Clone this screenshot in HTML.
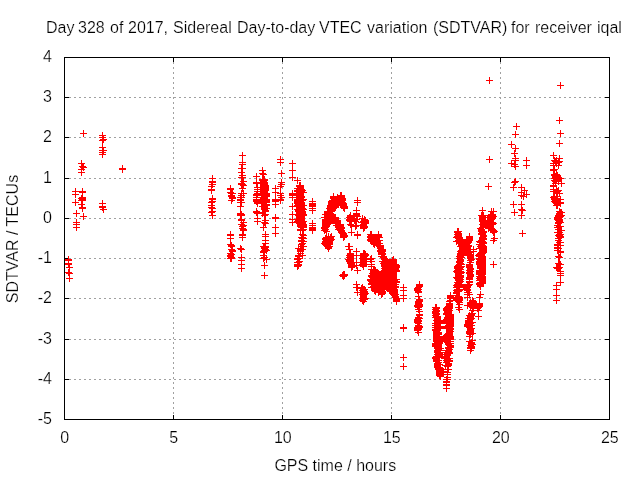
<!DOCTYPE html>
<html lang="en"><head><meta charset="utf-8"><title>SDTVAR iqal day 328 of 2017</title>
<style>
html,body{margin:0;padding:0;background:#fff;}
body{width:640px;height:480px;overflow:hidden;position:relative;}
svg{position:absolute;left:0;top:0;display:block;}
text{font-family:"Liberation Sans",Arial,Helvetica,sans-serif;font-size:16px;fill:#000;stroke:#fff;stroke-width:0.22px;}
</style></head><body>
<svg width="640" height="480" viewBox="0 0 640 480">
<rect width="640" height="480" fill="#fff"/>
<g shape-rendering="crispEdges" fill="none">
<path d="M64,97.5H609M64,137.5H609M64,178.5H609M64,218.5H609M64,258.5H609M64,298.5H609M64,339.5H609M64,379.5H609" stroke="#a0a0a0" stroke-width="1" stroke-dasharray="2 3"/>
<path d="M173.5,57V419M282.5,57V419M391.5,57V419M500.5,57V419" stroke="#a0a0a0" stroke-width="1" stroke-dasharray="2 3"/>
<path d="M64.5,57.5H609.5V419.5H64.5Z" stroke="#000" stroke-width="1"/>
<path d="M64.5,420v-5M64.5,57v5M173.5,420v-5M173.5,57v5M282.5,420v-5M282.5,57v5M391.5,420v-5M391.5,57v5M500.5,420v-5M500.5,57v5M609.5,420v-5M609.5,57v5M64,57.5h5M610,57.5h-5M64,97.5h5M610,97.5h-5M64,137.5h5M610,137.5h-5M64,178.5h5M610,178.5h-5M64,218.5h5M610,218.5h-5M64,258.5h5M610,258.5h-5M64,298.5h5M610,298.5h-5M64,339.5h5M610,339.5h-5M64,379.5h5M610,379.5h-5M64,419.5h5M610,419.5h-5" stroke="#000" stroke-width="1"/>
<path d="M65,259.5h7M68.5,256v7M65,260.5h7M68.5,257v7M65,263.5h7M68.5,260v7M65,264.5h7M68.5,261v7M65,272.5h7M68.5,269v7M66,267.5h7M69.5,264v7M66,273.5h7M69.5,270v7M66,278.5h7M69.5,275v7M72,191.5h7M75.5,188v7M72,194.5h7M75.5,191v7M72,202.5h7M75.5,199v7M73,213.5h7M76.5,210v7M73,222.5h7M76.5,219v7M73,224.5h7M76.5,221v7M73,227.5h7M76.5,224v7M78,163.5h7M81.5,160v7M78,169.5h7M81.5,166v7M78,172.5h7M81.5,169v7M78,198.5h7M81.5,195v7M78,200.5h7M81.5,197v7M78,204.5h7M81.5,201v7M79,166.5h7M82.5,163v7M79,191.5h7M82.5,188v7M79,192.5h7M82.5,189v7M79,197.5h7M82.5,194v7M79,198.5h7M82.5,195v7M79,199.5h7M82.5,196v7M79,200.5h7M82.5,197v7M79,207.5h7M82.5,204v7M79,208.5h7M82.5,205v7M80,133.5h7M83.5,130v7M80,167.5h7M83.5,164v7M80,216.5h7M83.5,213v7M99,135.5h7M102.5,132v7M99,137.5h7M102.5,134v7M99,140.5h7M102.5,137v7M99,147.5h7M102.5,144v7M99,150.5h7M102.5,147v7M99,152.5h7M102.5,149v7M99,154.5h7M102.5,151v7M99,203.5h7M102.5,200v7M99,206.5h7M102.5,203v7M99,207.5h7M102.5,204v7M100,139.5h7M103.5,136v7M100,150.5h7M103.5,147v7M100,209.5h7M103.5,206v7M119,168.5h7M122.5,165v7M119,169.5h7M122.5,166v7M208,186.5h7M211.5,183v7M208,189.5h7M211.5,186v7M208,190.5h7M211.5,187v7M208,202.5h7M211.5,199v7M208,205.5h7M211.5,202v7M208,207.5h7M211.5,204v7M208,212.5h7M211.5,209v7M209,178.5h7M212.5,175v7M209,181.5h7M212.5,178v7M209,182.5h7M212.5,179v7M209,184.5h7M212.5,181v7M209,198.5h7M212.5,195v7M209,199.5h7M212.5,196v7M209,201.5h7M212.5,198v7M209,208.5h7M212.5,205v7M209,211.5h7M212.5,208v7M209,215.5h7M212.5,212v7M227,188.5h7M230.5,185v7M227,189.5h7M230.5,186v7M227,192.5h7M230.5,189v7M227,234.5h7M230.5,231v7M227,235.5h7M230.5,232v7M227,238.5h7M230.5,235v7M227,244.5h7M230.5,241v7M227,253.5h7M230.5,250v7M227,255.5h7M230.5,252v7M227,256.5h7M230.5,253v7M227,258.5h7M230.5,255v7M228,193.5h7M231.5,190v7M228,195.5h7M231.5,192v7M228,196.5h7M231.5,193v7M228,200.5h7M231.5,197v7M228,245.5h7M231.5,242v7M228,246.5h7M231.5,243v7M228,249.5h7M231.5,246v7M228,254.5h7M231.5,251v7M228,257.5h7M231.5,254v7M228,258.5h7M231.5,255v7M229,193.5h7M232.5,190v7M229,197.5h7M232.5,194v7M229,198.5h7M232.5,195v7M229,250.5h7M232.5,247v7M229,251.5h7M232.5,248v7M237,197.5h7M240.5,194v7M237,199.5h7M240.5,196v7M237,200.5h7M240.5,197v7M237,202.5h7M240.5,199v7M237,206.5h7M240.5,203v7M237,213.5h7M240.5,210v7M237,214.5h7M240.5,211v7M237,215.5h7M240.5,212v7M237,248.5h7M240.5,245v7M238,168.5h7M241.5,165v7M238,172.5h7M241.5,169v7M238,177.5h7M241.5,174v7M238,183.5h7M241.5,180v7M238,184.5h7M241.5,181v7M238,193.5h7M241.5,190v7M238,195.5h7M241.5,192v7M238,197.5h7M241.5,194v7M238,202.5h7M241.5,199v7M238,214.5h7M241.5,211v7M238,215.5h7M241.5,212v7M238,219.5h7M241.5,216v7M238,220.5h7M241.5,217v7M238,224.5h7M241.5,221v7M238,249.5h7M241.5,246v7M238,257.5h7M241.5,254v7M238,260.5h7M241.5,257v7M238,264.5h7M241.5,261v7M238,268.5h7M241.5,265v7M239,155.5h7M242.5,152v7M239,162.5h7M242.5,159v7M239,164.5h7M242.5,161v7M239,168.5h7M242.5,165v7M239,175.5h7M242.5,172v7M239,177.5h7M242.5,174v7M239,184.5h7M242.5,181v7M239,188.5h7M242.5,185v7M239,226.5h7M242.5,223v7M239,228.5h7M242.5,225v7M239,234.5h7M242.5,231v7M239,235.5h7M242.5,232v7M239,237.5h7M242.5,234v7M240,181.5h7M243.5,178v7M240,185.5h7M243.5,182v7M240,193.5h7M243.5,190v7M240,222.5h7M243.5,219v7M240,225.5h7M243.5,222v7M240,229.5h7M243.5,226v7M240,230.5h7M243.5,227v7M253,176.5h7M256.5,173v7M253,182.5h7M256.5,179v7M253,183.5h7M256.5,180v7M253,194.5h7M256.5,191v7M253,195.5h7M256.5,192v7M253,197.5h7M256.5,194v7M253,199.5h7M256.5,196v7M253,200.5h7M256.5,197v7M253,201.5h7M256.5,198v7M253,211.5h7M256.5,208v7M253,212.5h7M256.5,209v7M254,187.5h7M257.5,184v7M254,189.5h7M257.5,186v7M254,191.5h7M257.5,188v7M254,193.5h7M257.5,190v7M254,202.5h7M257.5,199v7M254,203.5h7M257.5,200v7M254,213.5h7M257.5,210v7M254,218.5h7M257.5,215v7M254,221.5h7M257.5,218v7M259,170.5h7M262.5,167v7M259,173.5h7M262.5,170v7M259,179.5h7M262.5,176v7M259,180.5h7M262.5,177v7M259,206.5h7M262.5,203v7M259,212.5h7M262.5,209v7M259,213.5h7M262.5,210v7M260,174.5h7M263.5,171v7M260,181.5h7M263.5,178v7M260,182.5h7M263.5,179v7M260,183.5h7M263.5,180v7M260,184.5h7M263.5,181v7M260,185.5h7M263.5,182v7M260,186.5h7M263.5,183v7M260,187.5h7M263.5,184v7M260,188.5h7M263.5,185v7M260,189.5h7M263.5,186v7M260,190.5h7M263.5,187v7M260,191.5h7M263.5,188v7M260,192.5h7M263.5,189v7M260,193.5h7M263.5,190v7M260,194.5h7M263.5,191v7M260,195.5h7M263.5,192v7M260,197.5h7M263.5,194v7M260,198.5h7M263.5,195v7M260,199.5h7M263.5,196v7M260,200.5h7M263.5,197v7M260,201.5h7M263.5,198v7M260,202.5h7M263.5,199v7M260,203.5h7M263.5,200v7M260,227.5h7M263.5,224v7M260,246.5h7M263.5,243v7M260,251.5h7M263.5,248v7M260,252.5h7M263.5,249v7M260,255.5h7M263.5,252v7M260,258.5h7M263.5,255v7M261,179.5h7M264.5,176v7M261,180.5h7M264.5,177v7M261,182.5h7M264.5,179v7M261,183.5h7M264.5,180v7M261,184.5h7M264.5,181v7M261,191.5h7M264.5,188v7M261,192.5h7M264.5,189v7M261,196.5h7M264.5,193v7M261,197.5h7M264.5,194v7M261,198.5h7M264.5,195v7M261,204.5h7M264.5,201v7M261,205.5h7M264.5,202v7M261,206.5h7M264.5,203v7M261,207.5h7M264.5,204v7M261,208.5h7M264.5,205v7M261,209.5h7M264.5,206v7M261,215.5h7M264.5,212v7M261,222.5h7M264.5,219v7M261,247.5h7M264.5,244v7M261,248.5h7M264.5,245v7M261,250.5h7M264.5,247v7M261,251.5h7M264.5,248v7M261,257.5h7M264.5,254v7M261,265.5h7M264.5,262v7M261,275.5h7M264.5,272v7M262,185.5h7M265.5,182v7M262,186.5h7M265.5,183v7M262,187.5h7M265.5,184v7M262,188.5h7M265.5,185v7M262,189.5h7M265.5,186v7M262,190.5h7M265.5,187v7M262,210.5h7M265.5,207v7M262,211.5h7M265.5,208v7M262,214.5h7M265.5,211v7M262,220.5h7M265.5,217v7M262,223.5h7M265.5,220v7M262,234.5h7M265.5,231v7M262,236.5h7M265.5,233v7M262,240.5h7M265.5,237v7M262,243.5h7M265.5,240v7M262,246.5h7M265.5,243v7M262,247.5h7M265.5,244v7M262,249.5h7M265.5,246v7M263,193.5h7M266.5,190v7M263,194.5h7M266.5,191v7M263,195.5h7M266.5,192v7M263,196.5h7M266.5,193v7M263,199.5h7M266.5,196v7M263,200.5h7M266.5,197v7M263,201.5h7M266.5,198v7M263,202.5h7M266.5,199v7M263,204.5h7M266.5,201v7M263,205.5h7M266.5,202v7M263,208.5h7M266.5,205v7M263,250.5h7M266.5,247v7M263,259.5h7M266.5,256v7M272,188.5h7M275.5,185v7M272,192.5h7M275.5,189v7M272,199.5h7M275.5,196v7M272,200.5h7M275.5,197v7M272,201.5h7M275.5,198v7M272,204.5h7M275.5,201v7M272,217.5h7M275.5,214v7M272,218.5h7M275.5,215v7M272,227.5h7M275.5,224v7M272,233.5h7M275.5,230v7M277,159.5h7M280.5,156v7M277,162.5h7M280.5,159v7M277,186.5h7M280.5,183v7M277,193.5h7M280.5,190v7M277,195.5h7M280.5,192v7M277,199.5h7M280.5,196v7M277,200.5h7M280.5,197v7M278,173.5h7M281.5,170v7M278,182.5h7M281.5,179v7M278,184.5h7M281.5,181v7M278,197.5h7M281.5,194v7M289,163.5h7M292.5,160v7M289,170.5h7M292.5,167v7M289,177.5h7M292.5,174v7M289,193.5h7M292.5,190v7M289,194.5h7M292.5,191v7M289,195.5h7M292.5,192v7M289,197.5h7M292.5,194v7M289,206.5h7M292.5,203v7M289,214.5h7M292.5,211v7M289,219.5h7M292.5,216v7M289,222.5h7M292.5,219v7M294,180.5h7M297.5,177v7M294,188.5h7M297.5,185v7M294,190.5h7M297.5,187v7M294,191.5h7M297.5,188v7M294,199.5h7M297.5,196v7M294,200.5h7M297.5,197v7M294,201.5h7M297.5,198v7M294,202.5h7M297.5,199v7M294,203.5h7M297.5,200v7M294,205.5h7M297.5,202v7M294,209.5h7M297.5,206v7M294,221.5h7M297.5,218v7M294,258.5h7M297.5,255v7M294,259.5h7M297.5,256v7M294,262.5h7M297.5,259v7M294,264.5h7M297.5,261v7M294,265.5h7M297.5,262v7M294,266.5h7M297.5,263v7M295,204.5h7M298.5,201v7M295,210.5h7M298.5,207v7M295,211.5h7M298.5,208v7M295,215.5h7M298.5,212v7M295,220.5h7M298.5,217v7M295,222.5h7M298.5,219v7M295,248.5h7M298.5,245v7M295,255.5h7M298.5,252v7M295,256.5h7M298.5,253v7M295,262.5h7M298.5,259v7M295,264.5h7M298.5,261v7M295,265.5h7M298.5,262v7M296,185.5h7M299.5,182v7M296,186.5h7M299.5,183v7M296,189.5h7M299.5,186v7M296,192.5h7M299.5,189v7M296,193.5h7M299.5,190v7M296,194.5h7M299.5,191v7M296,195.5h7M299.5,192v7M296,196.5h7M299.5,193v7M296,197.5h7M299.5,194v7M296,198.5h7M299.5,195v7M296,206.5h7M299.5,203v7M296,207.5h7M299.5,204v7M296,208.5h7M299.5,205v7M296,212.5h7M299.5,209v7M296,213.5h7M299.5,210v7M296,214.5h7M299.5,211v7M296,216.5h7M299.5,213v7M296,217.5h7M299.5,214v7M296,218.5h7M299.5,215v7M296,219.5h7M299.5,216v7M296,223.5h7M299.5,220v7M296,256.5h7M299.5,253v7M296,258.5h7M299.5,255v7M296,261.5h7M299.5,258v7M297,185.5h7M300.5,182v7M297,186.5h7M300.5,183v7M297,187.5h7M300.5,184v7M297,188.5h7M300.5,185v7M297,193.5h7M300.5,190v7M297,194.5h7M300.5,191v7M297,195.5h7M300.5,192v7M297,198.5h7M300.5,195v7M297,201.5h7M300.5,198v7M297,224.5h7M300.5,221v7M297,225.5h7M300.5,222v7M297,226.5h7M300.5,223v7M297,229.5h7M300.5,226v7M297,230.5h7M300.5,227v7M297,248.5h7M300.5,245v7M297,249.5h7M300.5,246v7M297,250.5h7M300.5,247v7M297,251.5h7M300.5,248v7M297,253.5h7M300.5,250v7M298,189.5h7M301.5,186v7M298,191.5h7M301.5,188v7M298,196.5h7M301.5,193v7M298,197.5h7M301.5,194v7M298,202.5h7M301.5,199v7M298,203.5h7M301.5,200v7M298,204.5h7M301.5,201v7M298,206.5h7M301.5,203v7M298,207.5h7M301.5,204v7M298,210.5h7M301.5,207v7M298,216.5h7M301.5,213v7M298,217.5h7M301.5,214v7M298,218.5h7M301.5,215v7M298,219.5h7M301.5,216v7M298,220.5h7M301.5,217v7M298,227.5h7M301.5,224v7M298,237.5h7M301.5,234v7M298,240.5h7M301.5,237v7M298,241.5h7M301.5,238v7M298,244.5h7M301.5,241v7M298,246.5h7M301.5,243v7M299,190.5h7M302.5,187v7M299,200.5h7M302.5,197v7M299,208.5h7M302.5,205v7M299,211.5h7M302.5,208v7M299,212.5h7M302.5,209v7M299,213.5h7M302.5,210v7M299,222.5h7M302.5,219v7M299,223.5h7M302.5,220v7M299,230.5h7M302.5,227v7M299,234.5h7M302.5,231v7M299,237.5h7M302.5,234v7M299,238.5h7M302.5,235v7M299,243.5h7M302.5,240v7M299,249.5h7M302.5,246v7M299,255.5h7M302.5,252v7M300,192.5h7M303.5,189v7M300,199.5h7M303.5,196v7M300,205.5h7M303.5,202v7M300,209.5h7M303.5,206v7M300,214.5h7M303.5,211v7M300,215.5h7M303.5,212v7M300,221.5h7M303.5,218v7M300,224.5h7M303.5,221v7M300,225.5h7M303.5,222v7M300,226.5h7M303.5,223v7M300,227.5h7M303.5,224v7M300,229.5h7M303.5,226v7M300,235.5h7M303.5,232v7M300,238.5h7M303.5,235v7M300,241.5h7M303.5,238v7M300,246.5h7M303.5,243v7M309,201.5h7M312.5,198v7M309,203.5h7M312.5,200v7M309,204.5h7M312.5,201v7M309,205.5h7M312.5,202v7M309,206.5h7M312.5,203v7M309,208.5h7M312.5,205v7M309,210.5h7M312.5,207v7M309,223.5h7M312.5,220v7M309,225.5h7M312.5,222v7M309,227.5h7M312.5,224v7M309,228.5h7M312.5,225v7M309,229.5h7M312.5,226v7M309,230.5h7M312.5,227v7M321,217.5h7M324.5,214v7M321,227.5h7M324.5,224v7M321,228.5h7M324.5,225v7M321,230.5h7M324.5,227v7M321,243.5h7M324.5,240v7M322,214.5h7M325.5,211v7M322,219.5h7M325.5,216v7M322,220.5h7M325.5,217v7M322,221.5h7M325.5,218v7M322,222.5h7M325.5,219v7M322,223.5h7M325.5,220v7M322,224.5h7M325.5,221v7M322,225.5h7M325.5,222v7M322,226.5h7M325.5,223v7M322,227.5h7M325.5,224v7M322,229.5h7M325.5,226v7M322,238.5h7M325.5,235v7M322,239.5h7M325.5,236v7M322,241.5h7M325.5,238v7M322,242.5h7M325.5,239v7M322,244.5h7M325.5,241v7M323,225.5h7M326.5,222v7M323,226.5h7M326.5,223v7M323,231.5h7M326.5,228v7M323,237.5h7M326.5,234v7M323,240.5h7M326.5,237v7M323,245.5h7M326.5,242v7M324,211.5h7M327.5,208v7M324,212.5h7M327.5,209v7M324,213.5h7M327.5,210v7M324,215.5h7M327.5,212v7M324,216.5h7M327.5,213v7M324,218.5h7M327.5,215v7M324,224.5h7M327.5,221v7M324,245.5h7M327.5,242v7M324,246.5h7M327.5,243v7M325,236.5h7M328.5,233v7M325,247.5h7M328.5,244v7M325,248.5h7M328.5,245v7M326,208.5h7M329.5,205v7M326,212.5h7M329.5,209v7M326,241.5h7M329.5,238v7M326,242.5h7M329.5,239v7M326,243.5h7M329.5,240v7M326,244.5h7M329.5,241v7M326,246.5h7M329.5,243v7M327,205.5h7M330.5,202v7M327,206.5h7M330.5,203v7M327,207.5h7M330.5,204v7M327,209.5h7M330.5,206v7M327,210.5h7M330.5,207v7M327,213.5h7M330.5,210v7M327,237.5h7M330.5,234v7M327,238.5h7M330.5,235v7M327,240.5h7M330.5,237v7M328,201.5h7M331.5,198v7M328,202.5h7M331.5,199v7M328,203.5h7M331.5,200v7M328,204.5h7M331.5,201v7M328,211.5h7M331.5,208v7M328,214.5h7M331.5,211v7M328,236.5h7M331.5,233v7M328,239.5h7M331.5,236v7M329,200.5h7M332.5,197v7M329,209.5h7M332.5,206v7M329,210.5h7M332.5,207v7M329,215.5h7M332.5,212v7M329,216.5h7M332.5,213v7M330,196.5h7M333.5,193v7M330,197.5h7M333.5,194v7M330,198.5h7M333.5,195v7M330,208.5h7M333.5,205v7M331,199.5h7M334.5,196v7M332,206.5h7M335.5,203v7M332,207.5h7M335.5,204v7M332,217.5h7M335.5,214v7M332,218.5h7M335.5,215v7M332,219.5h7M335.5,216v7M333,225.5h7M336.5,222v7M334,197.5h7M337.5,194v7M334,220.5h7M337.5,217v7M334,221.5h7M337.5,218v7M334,222.5h7M337.5,219v7M334,223.5h7M337.5,220v7M335,224.5h7M338.5,221v7M335,226.5h7M338.5,223v7M335,227.5h7M338.5,224v7M335,229.5h7M338.5,226v7M336,228.5h7M339.5,225v7M337,195.5h7M340.5,192v7M337,224.5h7M340.5,221v7M337,225.5h7M340.5,222v7M337,226.5h7M340.5,223v7M337,229.5h7M340.5,226v7M337,230.5h7M340.5,227v7M338,195.5h7M341.5,192v7M338,196.5h7M341.5,193v7M338,197.5h7M341.5,194v7M338,201.5h7M341.5,198v7M338,227.5h7M341.5,224v7M338,228.5h7M341.5,225v7M338,230.5h7M341.5,227v7M338,231.5h7M341.5,228v7M338,232.5h7M341.5,229v7M339,198.5h7M342.5,195v7M339,199.5h7M342.5,196v7M339,200.5h7M342.5,197v7M339,202.5h7M342.5,199v7M339,232.5h7M342.5,229v7M339,233.5h7M342.5,230v7M339,275.5h7M342.5,272v7M340,203.5h7M343.5,200v7M340,204.5h7M343.5,201v7M340,205.5h7M343.5,202v7M340,206.5h7M343.5,203v7M340,207.5h7M343.5,204v7M340,233.5h7M343.5,230v7M340,234.5h7M343.5,231v7M340,235.5h7M343.5,232v7M340,236.5h7M343.5,233v7M340,237.5h7M343.5,234v7M340,274.5h7M343.5,271v7M340,276.5h7M343.5,273v7M341,206.5h7M344.5,203v7M341,207.5h7M344.5,204v7M341,208.5h7M344.5,205v7M341,235.5h7M344.5,232v7M341,236.5h7M344.5,233v7M341,274.5h7M344.5,271v7M341,275.5h7M344.5,272v7M345,246.5h7M348.5,243v7M345,259.5h7M348.5,256v7M346,217.5h7M349.5,214v7M346,219.5h7M349.5,216v7M346,220.5h7M349.5,217v7M346,246.5h7M349.5,243v7M346,249.5h7M349.5,246v7M346,255.5h7M349.5,252v7M346,257.5h7M349.5,254v7M346,260.5h7M349.5,257v7M346,261.5h7M349.5,258v7M347,215.5h7M350.5,212v7M347,216.5h7M350.5,213v7M347,217.5h7M350.5,214v7M347,218.5h7M350.5,215v7M347,219.5h7M350.5,216v7M347,221.5h7M350.5,218v7M347,224.5h7M350.5,221v7M347,253.5h7M350.5,250v7M347,254.5h7M350.5,251v7M347,255.5h7M350.5,252v7M347,256.5h7M350.5,253v7M347,257.5h7M350.5,254v7M347,258.5h7M350.5,255v7M347,259.5h7M350.5,256v7M347,260.5h7M350.5,257v7M347,261.5h7M350.5,258v7M347,262.5h7M350.5,259v7M347,263.5h7M350.5,260v7M348,225.5h7M351.5,222v7M348,232.5h7M351.5,229v7M348,263.5h7M351.5,260v7M348,264.5h7M351.5,261v7M348,265.5h7M351.5,262v7M348,266.5h7M351.5,263v7M348,267.5h7M351.5,264v7M349,266.5h7M352.5,263v7M351,220.5h7M354.5,217v7M352,221.5h7M355.5,218v7M352,226.5h7M355.5,223v7M353,210.5h7M356.5,207v7M353,213.5h7M356.5,210v7M353,214.5h7M356.5,211v7M353,215.5h7M356.5,212v7M353,219.5h7M356.5,216v7M353,225.5h7M356.5,222v7M353,251.5h7M356.5,248v7M353,255.5h7M356.5,252v7M353,262.5h7M356.5,259v7M353,265.5h7M356.5,262v7M353,284.5h7M356.5,281v7M353,287.5h7M356.5,284v7M354,200.5h7M357.5,197v7M354,202.5h7M357.5,199v7M354,216.5h7M357.5,213v7M354,234.5h7M357.5,231v7M354,235.5h7M357.5,232v7M354,270.5h7M357.5,267v7M354,287.5h7M357.5,284v7M354,292.5h7M357.5,289v7M358,222.5h7M361.5,219v7M358,288.5h7M361.5,285v7M359,218.5h7M362.5,215v7M359,258.5h7M362.5,255v7M359,264.5h7M362.5,261v7M359,287.5h7M362.5,284v7M359,288.5h7M362.5,285v7M359,290.5h7M362.5,287v7M359,292.5h7M362.5,289v7M359,294.5h7M362.5,291v7M359,298.5h7M362.5,295v7M359,300.5h7M362.5,297v7M360,221.5h7M363.5,218v7M360,224.5h7M363.5,221v7M360,225.5h7M363.5,222v7M360,226.5h7M363.5,223v7M360,227.5h7M363.5,224v7M360,228.5h7M363.5,225v7M360,253.5h7M363.5,250v7M360,254.5h7M363.5,251v7M360,255.5h7M363.5,252v7M360,256.5h7M363.5,253v7M360,257.5h7M363.5,254v7M360,259.5h7M363.5,256v7M360,260.5h7M363.5,257v7M360,261.5h7M363.5,258v7M360,262.5h7M363.5,259v7M360,263.5h7M363.5,260v7M360,265.5h7M363.5,262v7M360,266.5h7M363.5,263v7M360,289.5h7M363.5,286v7M360,290.5h7M363.5,287v7M360,291.5h7M363.5,288v7M360,293.5h7M363.5,290v7M360,295.5h7M363.5,292v7M360,296.5h7M363.5,293v7M360,297.5h7M363.5,294v7M360,299.5h7M363.5,296v7M360,301.5h7M363.5,298v7M361,219.5h7M364.5,216v7M361,226.5h7M364.5,223v7M361,227.5h7M364.5,224v7M361,253.5h7M364.5,250v7M361,256.5h7M364.5,253v7M361,289.5h7M364.5,286v7M361,291.5h7M364.5,288v7M361,292.5h7M364.5,289v7M361,294.5h7M364.5,291v7M361,299.5h7M364.5,296v7M362,220.5h7M365.5,217v7M362,221.5h7M365.5,218v7M362,222.5h7M365.5,219v7M362,223.5h7M365.5,220v7M362,254.5h7M365.5,251v7M362,255.5h7M365.5,252v7M362,293.5h7M365.5,290v7M362,298.5h7M365.5,295v7M363,261.5h7M366.5,258v7M367,234.5h7M370.5,231v7M367,236.5h7M370.5,233v7M367,237.5h7M370.5,234v7M367,239.5h7M370.5,236v7M367,240.5h7M370.5,237v7M367,259.5h7M370.5,256v7M367,279.5h7M370.5,276v7M367,280.5h7M370.5,277v7M368,234.5h7M371.5,231v7M368,235.5h7M371.5,232v7M368,238.5h7M371.5,235v7M368,241.5h7M371.5,238v7M368,258.5h7M371.5,255v7M368,261.5h7M371.5,258v7M368,264.5h7M371.5,261v7M368,266.5h7M371.5,263v7M368,269.5h7M371.5,266v7M368,275.5h7M371.5,272v7M368,276.5h7M371.5,273v7M368,281.5h7M371.5,278v7M368,283.5h7M371.5,280v7M368,284.5h7M371.5,281v7M368,287.5h7M371.5,284v7M369,273.5h7M372.5,270v7M369,277.5h7M372.5,274v7M369,282.5h7M372.5,279v7M370,242.5h7M373.5,239v7M370,243.5h7M373.5,240v7M370,270.5h7M373.5,267v7M370,271.5h7M373.5,268v7M370,272.5h7M373.5,269v7M370,274.5h7M373.5,271v7M370,278.5h7M373.5,275v7M370,286.5h7M373.5,283v7M371,244.5h7M374.5,241v7M371,269.5h7M374.5,266v7M371,285.5h7M374.5,282v7M371,288.5h7M374.5,285v7M371,289.5h7M374.5,286v7M371,290.5h7M374.5,287v7M372,270.5h7M375.5,267v7M372,291.5h7M375.5,288v7M373,238.5h7M376.5,235v7M373,239.5h7M376.5,236v7M374,241.5h7M377.5,238v7M374,242.5h7M377.5,239v7M374,244.5h7M377.5,241v7M374,245.5h7M377.5,242v7M375,234.5h7M378.5,231v7M375,235.5h7M378.5,232v7M375,236.5h7M378.5,233v7M375,292.5h7M378.5,289v7M376,237.5h7M379.5,234v7M376,240.5h7M379.5,237v7M376,243.5h7M379.5,240v7M376,246.5h7M379.5,243v7M377,245.5h7M380.5,242v7M377,246.5h7M380.5,243v7M377,247.5h7M380.5,244v7M377,248.5h7M380.5,245v7M377,250.5h7M380.5,247v7M377,251.5h7M380.5,248v7M377,290.5h7M380.5,287v7M378,249.5h7M381.5,246v7M378,252.5h7M381.5,249v7M378,253.5h7M381.5,250v7M378,254.5h7M381.5,251v7M378,256.5h7M381.5,253v7M378,273.5h7M381.5,270v7M378,276.5h7M381.5,273v7M378,294.5h7M381.5,291v7M379,249.5h7M382.5,246v7M379,250.5h7M382.5,247v7M379,251.5h7M382.5,248v7M379,253.5h7M382.5,250v7M379,254.5h7M382.5,251v7M379,261.5h7M382.5,258v7M379,277.5h7M382.5,274v7M379,279.5h7M382.5,276v7M379,280.5h7M382.5,277v7M379,283.5h7M382.5,280v7M379,285.5h7M382.5,282v7M379,288.5h7M382.5,285v7M379,291.5h7M382.5,288v7M379,292.5h7M382.5,289v7M379,293.5h7M382.5,290v7M380,257.5h7M383.5,254v7M380,263.5h7M383.5,260v7M380,274.5h7M383.5,271v7M380,275.5h7M383.5,272v7M380,282.5h7M383.5,279v7M381,258.5h7M384.5,255v7M381,262.5h7M384.5,259v7M381,264.5h7M384.5,261v7M381,265.5h7M384.5,262v7M381,266.5h7M384.5,263v7M381,268.5h7M384.5,265v7M381,270.5h7M384.5,267v7M381,271.5h7M384.5,268v7M381,272.5h7M384.5,269v7M381,278.5h7M384.5,275v7M381,281.5h7M384.5,278v7M381,284.5h7M384.5,281v7M381,286.5h7M384.5,283v7M381,287.5h7M384.5,284v7M381,289.5h7M384.5,286v7M382,259.5h7M385.5,256v7M382,260.5h7M385.5,257v7M382,267.5h7M385.5,264v7M382,269.5h7M385.5,266v7M383,259.5h7M386.5,256v7M386,290.5h7M389.5,287v7M387,291.5h7M390.5,288v7M389,260.5h7M392.5,257v7M389,292.5h7M392.5,289v7M390,259.5h7M393.5,256v7M390,260.5h7M393.5,257v7M390,261.5h7M393.5,258v7M390,262.5h7M393.5,259v7M390,263.5h7M393.5,260v7M390,272.5h7M393.5,269v7M390,273.5h7M393.5,270v7M390,274.5h7M393.5,271v7M390,275.5h7M393.5,272v7M390,276.5h7M393.5,273v7M390,277.5h7M393.5,274v7M390,278.5h7M393.5,275v7M390,283.5h7M393.5,280v7M390,285.5h7M393.5,282v7M390,288.5h7M393.5,285v7M390,293.5h7M393.5,290v7M391,280.5h7M394.5,277v7M391,289.5h7M394.5,286v7M391,290.5h7M394.5,287v7M391,291.5h7M394.5,288v7M391,292.5h7M394.5,289v7M391,293.5h7M394.5,290v7M391,294.5h7M394.5,291v7M391,295.5h7M394.5,292v7M392,264.5h7M395.5,261v7M392,268.5h7M395.5,265v7M392,269.5h7M395.5,266v7M392,284.5h7M395.5,281v7M392,286.5h7M395.5,283v7M392,287.5h7M395.5,284v7M392,294.5h7M395.5,291v7M392,296.5h7M395.5,293v7M392,297.5h7M395.5,294v7M393,265.5h7M396.5,262v7M393,266.5h7M396.5,263v7M393,267.5h7M396.5,264v7M393,270.5h7M396.5,267v7M393,271.5h7M396.5,268v7M393,279.5h7M396.5,276v7M393,281.5h7M396.5,278v7M393,282.5h7M396.5,279v7M393,298.5h7M396.5,295v7M393,299.5h7M396.5,296v7M393,300.5h7M396.5,297v7M393,301.5h7M396.5,298v7M400,287.5h7M403.5,284v7M400,290.5h7M403.5,287v7M400,295.5h7M403.5,292v7M400,298.5h7M403.5,295v7M400,327.5h7M403.5,324v7M400,328.5h7M403.5,325v7M400,357.5h7M403.5,354v7M400,366.5h7M403.5,363v7M414,288.5h7M417.5,285v7M414,289.5h7M417.5,286v7M414,290.5h7M417.5,287v7M414,305.5h7M417.5,302v7M414,306.5h7M417.5,303v7M414,319.5h7M417.5,316v7M414,320.5h7M417.5,317v7M414,321.5h7M417.5,318v7M414,322.5h7M417.5,319v7M414,327.5h7M417.5,324v7M414,328.5h7M417.5,325v7M414,329.5h7M417.5,326v7M414,330.5h7M417.5,327v7M415,287.5h7M418.5,284v7M415,289.5h7M418.5,286v7M415,291.5h7M418.5,288v7M415,292.5h7M418.5,289v7M415,296.5h7M418.5,293v7M415,301.5h7M418.5,298v7M415,302.5h7M418.5,299v7M415,303.5h7M418.5,300v7M415,304.5h7M418.5,301v7M415,307.5h7M418.5,304v7M415,309.5h7M418.5,306v7M415,317.5h7M418.5,314v7M415,318.5h7M418.5,315v7M415,320.5h7M418.5,317v7M415,321.5h7M418.5,318v7M415,323.5h7M418.5,320v7M415,325.5h7M418.5,322v7M415,326.5h7M418.5,323v7M415,328.5h7M418.5,325v7M415,329.5h7M418.5,326v7M415,332.5h7M418.5,329v7M416,284.5h7M419.5,281v7M416,285.5h7M419.5,282v7M416,286.5h7M419.5,283v7M416,299.5h7M419.5,296v7M416,300.5h7M419.5,297v7M416,301.5h7M419.5,298v7M416,304.5h7M419.5,301v7M416,305.5h7M419.5,302v7M416,306.5h7M419.5,303v7M416,311.5h7M419.5,308v7M416,314.5h7M419.5,311v7M416,315.5h7M419.5,312v7M416,318.5h7M419.5,315v7M416,326.5h7M419.5,323v7M416,327.5h7M419.5,324v7M432,307.5h7M435.5,304v7M432,309.5h7M435.5,306v7M432,311.5h7M435.5,308v7M432,312.5h7M435.5,309v7M432,313.5h7M435.5,310v7M432,315.5h7M435.5,312v7M432,317.5h7M435.5,314v7M432,323.5h7M435.5,320v7M432,325.5h7M435.5,322v7M432,327.5h7M435.5,324v7M432,329.5h7M435.5,326v7M432,330.5h7M435.5,327v7M432,343.5h7M435.5,340v7M432,344.5h7M435.5,341v7M432,345.5h7M435.5,342v7M432,346.5h7M435.5,343v7M432,357.5h7M435.5,354v7M432,358.5h7M435.5,355v7M433,307.5h7M436.5,304v7M433,308.5h7M436.5,305v7M433,310.5h7M436.5,307v7M433,311.5h7M436.5,308v7M433,313.5h7M436.5,310v7M433,314.5h7M436.5,311v7M433,316.5h7M436.5,313v7M433,320.5h7M436.5,317v7M433,331.5h7M436.5,328v7M433,332.5h7M436.5,329v7M433,333.5h7M436.5,330v7M433,334.5h7M436.5,331v7M433,335.5h7M436.5,332v7M433,336.5h7M436.5,333v7M433,337.5h7M436.5,334v7M433,338.5h7M436.5,335v7M433,339.5h7M436.5,336v7M433,340.5h7M436.5,337v7M433,341.5h7M436.5,338v7M433,356.5h7M436.5,353v7M433,358.5h7M436.5,355v7M433,359.5h7M436.5,356v7M433,360.5h7M436.5,357v7M433,361.5h7M436.5,358v7M434,316.5h7M437.5,313v7M434,317.5h7M437.5,314v7M434,318.5h7M437.5,315v7M434,319.5h7M437.5,316v7M434,321.5h7M437.5,318v7M434,322.5h7M437.5,319v7M434,324.5h7M437.5,321v7M434,325.5h7M437.5,322v7M434,326.5h7M437.5,323v7M434,328.5h7M437.5,325v7M434,329.5h7M437.5,326v7M434,330.5h7M437.5,327v7M434,342.5h7M437.5,339v7M434,347.5h7M437.5,344v7M434,348.5h7M437.5,345v7M434,350.5h7M437.5,347v7M434,351.5h7M437.5,348v7M434,352.5h7M437.5,349v7M434,354.5h7M437.5,351v7M434,363.5h7M437.5,360v7M434,364.5h7M437.5,361v7M434,365.5h7M437.5,362v7M434,366.5h7M437.5,363v7M434,367.5h7M437.5,364v7M435,332.5h7M438.5,329v7M435,333.5h7M438.5,330v7M435,334.5h7M438.5,331v7M435,344.5h7M438.5,341v7M435,345.5h7M438.5,342v7M435,346.5h7M438.5,343v7M435,347.5h7M438.5,344v7M435,349.5h7M438.5,346v7M435,353.5h7M438.5,350v7M435,355.5h7M438.5,352v7M435,360.5h7M438.5,357v7M435,362.5h7M438.5,359v7M435,368.5h7M438.5,365v7M435,369.5h7M438.5,366v7M436,342.5h7M439.5,339v7M436,343.5h7M439.5,340v7M436,353.5h7M439.5,350v7M436,355.5h7M439.5,352v7M436,357.5h7M439.5,354v7M436,364.5h7M439.5,361v7M436,367.5h7M439.5,364v7M436,370.5h7M439.5,367v7M436,371.5h7M439.5,368v7M436,372.5h7M439.5,369v7M436,373.5h7M439.5,370v7M436,374.5h7M439.5,371v7M436,375.5h7M439.5,372v7M437,348.5h7M440.5,345v7M437,354.5h7M440.5,351v7M437,368.5h7M440.5,365v7M437,375.5h7M440.5,372v7M437,376.5h7M440.5,373v7M440,371.5h7M443.5,368v7M441,356.5h7M444.5,353v7M441,358.5h7M444.5,355v7M442,365.5h7M445.5,362v7M443,308.5h7M446.5,305v7M443,309.5h7M446.5,306v7M443,310.5h7M446.5,307v7M443,313.5h7M446.5,310v7M443,314.5h7M446.5,311v7M443,319.5h7M446.5,316v7M443,335.5h7M446.5,332v7M443,356.5h7M446.5,353v7M443,357.5h7M446.5,354v7M443,360.5h7M446.5,357v7M443,362.5h7M446.5,359v7M443,379.5h7M446.5,376v7M443,381.5h7M446.5,378v7M443,382.5h7M446.5,379v7M443,384.5h7M446.5,381v7M443,385.5h7M446.5,382v7M443,388.5h7M446.5,385v7M444,307.5h7M447.5,304v7M444,311.5h7M447.5,308v7M444,312.5h7M447.5,309v7M444,317.5h7M447.5,314v7M444,318.5h7M447.5,315v7M444,334.5h7M447.5,331v7M444,340.5h7M447.5,337v7M444,342.5h7M447.5,339v7M444,353.5h7M447.5,350v7M444,354.5h7M447.5,351v7M444,355.5h7M447.5,352v7M444,359.5h7M447.5,356v7M444,361.5h7M447.5,358v7M444,366.5h7M447.5,363v7M444,369.5h7M447.5,366v7M444,372.5h7M447.5,369v7M444,374.5h7M447.5,371v7M444,377.5h7M447.5,374v7M444,379.5h7M447.5,376v7M445,306.5h7M448.5,303v7M445,309.5h7M448.5,306v7M445,311.5h7M448.5,308v7M445,312.5h7M448.5,309v7M445,313.5h7M448.5,310v7M445,315.5h7M448.5,312v7M445,316.5h7M448.5,313v7M445,325.5h7M448.5,322v7M445,333.5h7M448.5,330v7M445,343.5h7M448.5,340v7M445,344.5h7M448.5,341v7M445,347.5h7M448.5,344v7M445,348.5h7M448.5,345v7M445,350.5h7M448.5,347v7M445,351.5h7M448.5,348v7M445,363.5h7M448.5,360v7M445,364.5h7M448.5,361v7M445,365.5h7M448.5,362v7M445,369.5h7M448.5,366v7M446,301.5h7M449.5,298v7M446,303.5h7M449.5,300v7M446,304.5h7M449.5,301v7M446,305.5h7M449.5,302v7M446,306.5h7M449.5,303v7M446,307.5h7M449.5,304v7M446,308.5h7M449.5,305v7M446,310.5h7M449.5,307v7M446,324.5h7M449.5,321v7M446,327.5h7M449.5,324v7M446,329.5h7M449.5,326v7M446,330.5h7M449.5,327v7M446,331.5h7M449.5,328v7M446,332.5h7M449.5,329v7M446,333.5h7M449.5,330v7M446,334.5h7M449.5,331v7M446,335.5h7M449.5,332v7M446,345.5h7M449.5,342v7M446,349.5h7M449.5,346v7M446,352.5h7M449.5,349v7M446,353.5h7M449.5,350v7M446,358.5h7M449.5,355v7M446,360.5h7M449.5,357v7M446,361.5h7M449.5,358v7M447,295.5h7M450.5,292v7M447,296.5h7M450.5,293v7M447,297.5h7M450.5,294v7M447,298.5h7M450.5,295v7M447,300.5h7M450.5,297v7M447,314.5h7M450.5,311v7M447,315.5h7M450.5,312v7M447,316.5h7M450.5,313v7M447,317.5h7M450.5,314v7M447,318.5h7M450.5,315v7M447,319.5h7M450.5,316v7M447,320.5h7M450.5,317v7M447,321.5h7M450.5,318v7M447,322.5h7M450.5,319v7M447,323.5h7M450.5,320v7M447,324.5h7M450.5,321v7M447,325.5h7M450.5,322v7M447,326.5h7M450.5,323v7M447,328.5h7M450.5,325v7M447,329.5h7M450.5,326v7M447,331.5h7M450.5,328v7M447,336.5h7M450.5,333v7M447,337.5h7M450.5,334v7M447,338.5h7M450.5,335v7M447,339.5h7M450.5,336v7M447,341.5h7M450.5,338v7M447,343.5h7M450.5,340v7M447,345.5h7M450.5,342v7M447,346.5h7M450.5,343v7M447,347.5h7M450.5,344v7M453,237.5h7M456.5,234v7M453,241.5h7M456.5,238v7M453,271.5h7M456.5,268v7M453,277.5h7M456.5,274v7M453,285.5h7M456.5,282v7M453,287.5h7M456.5,284v7M453,290.5h7M456.5,287v7M453,292.5h7M456.5,289v7M453,293.5h7M456.5,290v7M453,295.5h7M456.5,292v7M453,299.5h7M456.5,296v7M454,231.5h7M457.5,228v7M454,232.5h7M457.5,229v7M454,234.5h7M457.5,231v7M454,236.5h7M457.5,233v7M454,266.5h7M457.5,263v7M454,267.5h7M457.5,264v7M454,268.5h7M457.5,265v7M454,270.5h7M457.5,267v7M454,272.5h7M457.5,269v7M454,278.5h7M457.5,275v7M454,282.5h7M457.5,279v7M454,284.5h7M457.5,281v7M454,286.5h7M457.5,283v7M454,289.5h7M457.5,286v7M454,291.5h7M457.5,288v7M454,297.5h7M457.5,294v7M454,298.5h7M457.5,295v7M454,300.5h7M457.5,297v7M455,231.5h7M458.5,228v7M455,233.5h7M458.5,230v7M455,234.5h7M458.5,231v7M455,235.5h7M458.5,232v7M455,236.5h7M458.5,233v7M455,238.5h7M458.5,235v7M455,240.5h7M458.5,237v7M455,265.5h7M458.5,262v7M455,269.5h7M458.5,266v7M455,270.5h7M458.5,267v7M455,273.5h7M458.5,270v7M455,274.5h7M458.5,271v7M455,275.5h7M458.5,272v7M455,276.5h7M458.5,273v7M455,279.5h7M458.5,276v7M455,280.5h7M458.5,277v7M455,283.5h7M458.5,280v7M455,291.5h7M458.5,288v7M455,296.5h7M458.5,293v7M455,301.5h7M458.5,298v7M455,307.5h7M458.5,304v7M456,237.5h7M459.5,234v7M456,238.5h7M459.5,235v7M456,239.5h7M459.5,236v7M456,242.5h7M459.5,239v7M456,243.5h7M459.5,240v7M456,256.5h7M459.5,253v7M456,258.5h7M459.5,255v7M456,261.5h7M459.5,258v7M456,262.5h7M459.5,259v7M456,264.5h7M459.5,261v7M456,268.5h7M459.5,265v7M456,278.5h7M459.5,275v7M456,280.5h7M459.5,277v7M456,281.5h7M459.5,278v7M456,282.5h7M459.5,279v7M456,290.5h7M459.5,287v7M456,297.5h7M459.5,294v7M456,298.5h7M459.5,295v7M456,299.5h7M459.5,296v7M456,300.5h7M459.5,297v7M456,302.5h7M459.5,299v7M456,304.5h7M459.5,301v7M456,309.5h7M459.5,306v7M457,246.5h7M460.5,243v7M457,251.5h7M460.5,248v7M457,253.5h7M460.5,250v7M457,254.5h7M460.5,251v7M457,255.5h7M460.5,252v7M457,256.5h7M460.5,253v7M457,257.5h7M460.5,254v7M457,259.5h7M460.5,256v7M457,260.5h7M460.5,257v7M457,261.5h7M460.5,258v7M457,263.5h7M460.5,260v7M457,267.5h7M460.5,264v7M457,269.5h7M460.5,266v7M457,271.5h7M460.5,268v7M457,273.5h7M460.5,270v7M457,275.5h7M460.5,272v7M457,276.5h7M460.5,273v7M457,277.5h7M460.5,274v7M457,279.5h7M460.5,276v7M457,281.5h7M460.5,278v7M458,244.5h7M461.5,241v7M458,245.5h7M461.5,242v7M458,250.5h7M461.5,247v7M458,252.5h7M461.5,249v7M458,257.5h7M461.5,254v7M458,264.5h7M461.5,261v7M458,266.5h7M461.5,263v7M458,272.5h7M461.5,269v7M459,247.5h7M462.5,244v7M459,248.5h7M462.5,245v7M459,249.5h7M462.5,246v7M463,244.5h7M466.5,241v7M463,249.5h7M466.5,246v7M463,250.5h7M466.5,247v7M463,288.5h7M466.5,285v7M464,243.5h7M467.5,240v7M464,247.5h7M467.5,244v7M464,248.5h7M467.5,245v7M464,251.5h7M467.5,248v7M464,286.5h7M467.5,283v7M464,287.5h7M467.5,284v7M464,289.5h7M467.5,286v7M464,290.5h7M467.5,287v7M464,292.5h7M467.5,289v7M464,294.5h7M467.5,291v7M464,297.5h7M467.5,294v7M464,305.5h7M467.5,302v7M464,324.5h7M467.5,321v7M464,325.5h7M467.5,322v7M464,326.5h7M467.5,323v7M465,241.5h7M468.5,238v7M465,242.5h7M468.5,239v7M465,245.5h7M468.5,242v7M465,246.5h7M468.5,243v7M465,253.5h7M468.5,250v7M465,285.5h7M468.5,282v7M465,292.5h7M468.5,289v7M465,318.5h7M468.5,315v7M465,320.5h7M468.5,317v7M465,321.5h7M468.5,318v7M465,322.5h7M468.5,319v7M465,323.5h7M468.5,320v7M466,236.5h7M469.5,233v7M466,237.5h7M469.5,234v7M466,238.5h7M469.5,235v7M466,239.5h7M469.5,236v7M466,240.5h7M469.5,237v7M466,264.5h7M469.5,261v7M466,265.5h7M469.5,262v7M466,266.5h7M469.5,263v7M466,267.5h7M469.5,264v7M466,270.5h7M469.5,267v7M466,272.5h7M469.5,269v7M466,273.5h7M469.5,270v7M466,277.5h7M469.5,274v7M466,278.5h7M469.5,275v7M466,279.5h7M469.5,276v7M466,281.5h7M469.5,278v7M466,282.5h7M469.5,279v7M466,284.5h7M469.5,281v7M466,294.5h7M469.5,291v7M466,315.5h7M469.5,312v7M466,320.5h7M469.5,317v7M466,321.5h7M469.5,318v7M466,324.5h7M469.5,321v7M466,326.5h7M469.5,323v7M466,327.5h7M469.5,324v7M466,331.5h7M469.5,328v7M466,332.5h7M469.5,329v7M466,333.5h7M469.5,330v7M466,336.5h7M469.5,333v7M466,341.5h7M469.5,338v7M467,252.5h7M470.5,249v7M467,254.5h7M470.5,251v7M467,255.5h7M470.5,252v7M467,256.5h7M470.5,253v7M467,257.5h7M470.5,254v7M467,258.5h7M470.5,255v7M467,260.5h7M470.5,257v7M467,262.5h7M470.5,259v7M467,268.5h7M470.5,265v7M467,269.5h7M470.5,266v7M467,271.5h7M470.5,268v7M467,274.5h7M470.5,271v7M467,275.5h7M470.5,272v7M467,276.5h7M470.5,273v7M467,302.5h7M470.5,299v7M467,303.5h7M470.5,300v7M467,304.5h7M470.5,301v7M467,306.5h7M470.5,303v7M467,316.5h7M470.5,313v7M467,317.5h7M470.5,314v7M467,319.5h7M470.5,316v7M467,323.5h7M470.5,320v7M467,328.5h7M470.5,325v7M467,329.5h7M470.5,326v7M467,330.5h7M470.5,327v7M467,331.5h7M470.5,328v7M467,332.5h7M470.5,329v7M467,334.5h7M470.5,331v7M467,345.5h7M470.5,342v7M467,347.5h7M470.5,344v7M467,348.5h7M470.5,345v7M467,350.5h7M470.5,347v7M468,259.5h7M471.5,256v7M468,313.5h7M471.5,310v7M468,314.5h7M471.5,311v7M468,315.5h7M471.5,312v7M468,318.5h7M471.5,315v7M468,325.5h7M471.5,322v7M468,328.5h7M471.5,325v7M468,342.5h7M471.5,339v7M468,343.5h7M471.5,340v7M468,344.5h7M471.5,341v7M468,346.5h7M471.5,343v7M468,347.5h7M471.5,344v7M468,348.5h7M471.5,345v7M469,300.5h7M472.5,297v7M469,301.5h7M472.5,298v7M469,307.5h7M472.5,304v7M469,310.5h7M472.5,307v7M469,313.5h7M472.5,310v7M469,322.5h7M472.5,319v7M469,333.5h7M472.5,330v7M469,340.5h7M472.5,337v7M469,344.5h7M472.5,341v7M470,249.5h7M473.5,246v7M470,251.5h7M473.5,248v7M470,301.5h7M473.5,298v7M470,302.5h7M473.5,299v7M470,308.5h7M473.5,305v7M474,308.5h7M477.5,305v7M475,255.5h7M478.5,252v7M475,307.5h7M478.5,304v7M475,310.5h7M478.5,307v7M475,316.5h7M478.5,313v7M476,241.5h7M479.5,238v7M476,244.5h7M479.5,241v7M476,248.5h7M479.5,245v7M476,254.5h7M479.5,251v7M476,256.5h7M479.5,253v7M476,258.5h7M479.5,255v7M476,259.5h7M479.5,256v7M476,261.5h7M479.5,258v7M476,262.5h7M479.5,259v7M476,263.5h7M479.5,260v7M476,264.5h7M479.5,261v7M476,270.5h7M479.5,267v7M476,271.5h7M479.5,268v7M476,272.5h7M479.5,269v7M476,273.5h7M479.5,270v7M476,274.5h7M479.5,271v7M476,276.5h7M479.5,273v7M476,278.5h7M479.5,275v7M476,280.5h7M479.5,277v7M476,283.5h7M479.5,280v7M476,284.5h7M479.5,281v7M476,297.5h7M479.5,294v7M476,303.5h7M479.5,300v7M476,304.5h7M479.5,301v7M476,305.5h7M479.5,302v7M476,306.5h7M479.5,303v7M477,228.5h7M480.5,225v7M477,242.5h7M480.5,239v7M477,246.5h7M480.5,243v7M477,253.5h7M480.5,250v7M477,260.5h7M480.5,257v7M477,265.5h7M480.5,262v7M477,266.5h7M480.5,263v7M477,267.5h7M480.5,264v7M477,268.5h7M480.5,265v7M477,277.5h7M480.5,274v7M477,279.5h7M480.5,276v7M477,282.5h7M480.5,279v7M477,284.5h7M480.5,281v7M477,285.5h7M480.5,282v7M477,286.5h7M480.5,283v7M477,294.5h7M480.5,291v7M478,215.5h7M481.5,212v7M478,229.5h7M481.5,226v7M478,230.5h7M481.5,227v7M478,231.5h7M481.5,228v7M478,233.5h7M481.5,230v7M478,234.5h7M481.5,231v7M478,240.5h7M481.5,237v7M478,244.5h7M481.5,241v7M478,245.5h7M481.5,242v7M478,247.5h7M481.5,244v7M478,252.5h7M481.5,249v7M478,254.5h7M481.5,251v7M478,255.5h7M481.5,252v7M478,275.5h7M481.5,272v7M479,210.5h7M482.5,207v7M479,216.5h7M482.5,213v7M479,217.5h7M482.5,214v7M479,218.5h7M482.5,215v7M479,219.5h7M482.5,216v7M479,220.5h7M482.5,217v7M479,221.5h7M482.5,218v7M479,224.5h7M482.5,221v7M479,227.5h7M482.5,224v7M479,232.5h7M482.5,229v7M479,233.5h7M482.5,230v7M479,234.5h7M482.5,231v7M479,237.5h7M482.5,234v7M479,239.5h7M482.5,236v7M479,241.5h7M482.5,238v7M479,243.5h7M482.5,240v7M479,245.5h7M482.5,242v7M479,249.5h7M482.5,246v7M479,250.5h7M482.5,247v7M479,251.5h7M482.5,248v7M479,253.5h7M482.5,250v7M479,256.5h7M482.5,253v7M479,257.5h7M482.5,254v7M479,258.5h7M482.5,255v7M479,259.5h7M482.5,256v7M479,260.5h7M482.5,257v7M479,261.5h7M482.5,258v7M479,262.5h7M482.5,259v7M479,263.5h7M482.5,260v7M479,264.5h7M482.5,261v7M479,265.5h7M482.5,262v7M479,266.5h7M482.5,263v7M479,267.5h7M482.5,264v7M479,268.5h7M482.5,265v7M479,269.5h7M482.5,266v7M479,270.5h7M482.5,267v7M479,271.5h7M482.5,268v7M479,272.5h7M482.5,269v7M479,273.5h7M482.5,270v7M479,274.5h7M482.5,271v7M479,276.5h7M482.5,273v7M479,277.5h7M482.5,274v7M479,278.5h7M482.5,275v7M479,279.5h7M482.5,276v7M479,280.5h7M482.5,277v7M479,281.5h7M482.5,278v7M479,282.5h7M482.5,279v7M479,283.5h7M482.5,280v7M480,215.5h7M483.5,212v7M480,222.5h7M483.5,219v7M480,223.5h7M483.5,220v7M480,225.5h7M483.5,222v7M480,226.5h7M483.5,223v7M480,231.5h7M483.5,228v7M480,232.5h7M483.5,229v7M480,235.5h7M483.5,232v7M480,236.5h7M483.5,233v7M480,238.5h7M483.5,235v7M480,239.5h7M483.5,236v7M480,242.5h7M483.5,239v7M480,243.5h7M483.5,240v7M480,246.5h7M483.5,243v7M480,247.5h7M483.5,244v7M480,248.5h7M483.5,245v7M480,249.5h7M483.5,246v7M480,250.5h7M483.5,247v7M480,251.5h7M483.5,248v7M480,252.5h7M483.5,249v7M485,186.5h7M488.5,183v7M485,228.5h7M488.5,225v7M486,80.5h7M489.5,77v7M486,159.5h7M489.5,156v7M486,217.5h7M489.5,214v7M486,220.5h7M489.5,217v7M487,215.5h7M490.5,212v7M487,216.5h7M490.5,213v7M487,218.5h7M490.5,215v7M487,219.5h7M490.5,216v7M487,220.5h7M490.5,217v7M487,221.5h7M490.5,218v7M487,225.5h7M490.5,222v7M487,226.5h7M490.5,223v7M487,227.5h7M490.5,224v7M487,228.5h7M490.5,225v7M488,211.5h7M491.5,208v7M488,214.5h7M491.5,211v7M488,219.5h7M491.5,216v7M489,214.5h7M492.5,211v7M489,215.5h7M492.5,212v7M489,217.5h7M492.5,214v7M489,218.5h7M492.5,215v7M489,222.5h7M492.5,219v7M489,224.5h7M492.5,221v7M489,229.5h7M492.5,226v7M489,230.5h7M492.5,227v7M490,211.5h7M493.5,208v7M490,216.5h7M493.5,213v7M490,223.5h7M493.5,220v7M490,230.5h7M493.5,227v7M490,231.5h7M493.5,228v7M490,232.5h7M493.5,229v7M490,240.5h7M493.5,237v7M490,264.5h7M493.5,261v7M491,231.5h7M494.5,228v7M491,238.5h7M494.5,235v7M508,144.5h7M511.5,141v7M508,163.5h7M511.5,160v7M510,187.5h7M513.5,184v7M510,204.5h7M513.5,201v7M511,153.5h7M514.5,150v7M511,164.5h7M514.5,161v7M511,182.5h7M514.5,179v7M511,212.5h7M514.5,209v7M512,134.5h7M515.5,131v7M512,148.5h7M515.5,145v7M512,158.5h7M515.5,155v7M512,160.5h7M515.5,157v7M512,166.5h7M515.5,163v7M512,181.5h7M515.5,178v7M513,126.5h7M516.5,123v7M518,187.5h7M521.5,184v7M518,192.5h7M521.5,189v7M518,195.5h7M521.5,192v7M518,204.5h7M521.5,201v7M518,209.5h7M521.5,206v7M518,215.5h7M521.5,212v7M519,210.5h7M522.5,207v7M519,233.5h7M522.5,230v7M520,196.5h7M523.5,193v7M521,190.5h7M524.5,187v7M523,160.5h7M526.5,157v7M523,165.5h7M526.5,162v7M523,194.5h7M526.5,191v7M550,155.5h7M553.5,152v7M550,163.5h7M553.5,160v7M550,165.5h7M553.5,162v7M550,169.5h7M553.5,166v7M550,170.5h7M553.5,167v7M550,185.5h7M553.5,182v7M550,186.5h7M553.5,183v7M550,189.5h7M553.5,186v7M550,191.5h7M553.5,188v7M550,197.5h7M553.5,194v7M551,160.5h7M554.5,157v7M551,169.5h7M554.5,166v7M551,174.5h7M554.5,171v7M551,175.5h7M554.5,172v7M551,178.5h7M554.5,175v7M551,180.5h7M554.5,177v7M551,196.5h7M554.5,193v7M551,198.5h7M554.5,195v7M551,199.5h7M554.5,196v7M551,201.5h7M554.5,198v7M552,161.5h7M555.5,158v7M552,176.5h7M555.5,173v7M552,177.5h7M555.5,174v7M552,181.5h7M555.5,178v7M552,183.5h7M555.5,180v7M552,200.5h7M555.5,197v7M552,202.5h7M555.5,199v7M553,160.5h7M556.5,157v7M553,162.5h7M556.5,159v7M553,163.5h7M556.5,160v7M553,174.5h7M556.5,171v7M553,179.5h7M556.5,176v7M553,190.5h7M556.5,187v7M553,192.5h7M556.5,189v7M553,193.5h7M556.5,190v7M553,203.5h7M556.5,200v7M553,205.5h7M556.5,202v7M553,267.5h7M556.5,264v7M553,285.5h7M556.5,282v7M553,289.5h7M556.5,286v7M553,295.5h7M556.5,292v7M553,300.5h7M556.5,297v7M554,175.5h7M557.5,172v7M554,176.5h7M557.5,173v7M554,191.5h7M557.5,188v7M554,196.5h7M557.5,193v7M554,198.5h7M557.5,195v7M554,200.5h7M557.5,197v7M554,201.5h7M557.5,198v7M554,204.5h7M557.5,201v7M554,205.5h7M557.5,202v7M554,217.5h7M557.5,214v7M554,218.5h7M557.5,215v7M554,219.5h7M557.5,216v7M554,225.5h7M557.5,222v7M554,227.5h7M557.5,224v7M554,232.5h7M557.5,229v7M554,244.5h7M557.5,241v7M554,245.5h7M557.5,242v7M554,247.5h7M557.5,244v7M554,248.5h7M557.5,245v7M554,250.5h7M557.5,247v7M554,268.5h7M557.5,265v7M555,162.5h7M558.5,159v7M555,165.5h7M558.5,162v7M555,177.5h7M558.5,174v7M555,179.5h7M558.5,176v7M555,180.5h7M558.5,177v7M555,181.5h7M558.5,178v7M555,190.5h7M558.5,187v7M555,215.5h7M558.5,212v7M555,216.5h7M558.5,213v7M555,218.5h7M558.5,215v7M555,220.5h7M558.5,217v7M555,222.5h7M558.5,219v7M555,223.5h7M558.5,220v7M555,227.5h7M558.5,224v7M555,229.5h7M558.5,226v7M555,235.5h7M558.5,232v7M555,238.5h7M558.5,235v7M555,240.5h7M558.5,237v7M555,248.5h7M558.5,245v7M555,256.5h7M558.5,253v7M555,263.5h7M558.5,260v7M555,268.5h7M558.5,265v7M556,120.5h7M559.5,117v7M556,143.5h7M559.5,140v7M556,158.5h7M559.5,155v7M556,161.5h7M559.5,158v7M556,193.5h7M559.5,190v7M556,211.5h7M559.5,208v7M556,213.5h7M559.5,210v7M556,214.5h7M559.5,211v7M556,217.5h7M559.5,214v7M556,219.5h7M559.5,216v7M556,220.5h7M559.5,217v7M556,221.5h7M559.5,218v7M556,226.5h7M559.5,223v7M556,232.5h7M559.5,229v7M556,234.5h7M559.5,231v7M556,235.5h7M559.5,232v7M556,236.5h7M559.5,233v7M556,242.5h7M559.5,239v7M556,257.5h7M559.5,254v7M556,264.5h7M559.5,261v7M556,267.5h7M559.5,264v7M557,85.5h7M560.5,82v7M557,133.5h7M560.5,130v7M557,178.5h7M560.5,175v7M557,199.5h7M560.5,196v7M557,202.5h7M560.5,199v7M557,203.5h7M560.5,200v7M557,212.5h7M560.5,209v7M557,216.5h7M560.5,213v7M557,222.5h7M560.5,219v7M557,226.5h7M560.5,223v7M557,230.5h7M560.5,227v7M557,234.5h7M560.5,231v7M557,236.5h7M560.5,233v7M557,237.5h7M560.5,234v7M557,242.5h7M560.5,239v7M557,245.5h7M560.5,242v7M557,251.5h7M560.5,248v7M557,252.5h7M560.5,249v7M557,264.5h7M560.5,261v7M557,271.5h7M560.5,268v7M557,273.5h7M560.5,270v7M557,275.5h7M560.5,272v7M557,282.5h7M560.5,279v7M558,183.5h7M561.5,180v7M558,212.5h7M561.5,209v7M558,215.5h7M561.5,212v7M558,230.5h7M561.5,227v7M330,196.5h15M330,197.5h15M330,198.5h16M331,199.5h15M329,200.5h17M328,201.5h17M328,202.5h18M328,203.5h19M328,204.5h19M327,205.5h20M321,217.5h18M324,218.5h15M322,219.5h17M322,220.5h19M322,221.5h19M479,221.5h15M322,222.5h19M480,222.5h16M322,223.5h19M480,223.5h17M479,224.5h17M479,227.5h15M367,234.5h15M367,236.5h15M367,237.5h16M456,239.5h17M367,240.5h16M455,240.5h18M453,241.5h19M456,242.5h16M456,243.5h15M457,246.5h15M458,252.5h16M457,253.5h15M457,254.5h17M457,255.5h17M359,258.5h16M379,261.5h18M381,262.5h16M380,263.5h17M359,264.5h16M381,264.5h18M381,265.5h19M381,266.5h19M382,267.5h18M381,268.5h18M382,269.5h17M381,270.5h19M370,271.5h30M370,272.5h27M369,273.5h28M370,274.5h27M368,275.5h29M368,276.5h29M369,277.5h28M370,278.5h27M367,279.5h33M367,280.5h31M368,281.5h32M369,282.5h31M368,283.5h29M368,284.5h31M454,284.5h19M371,285.5h26M453,285.5h19M370,286.5h29M454,286.5h17M368,287.5h31M453,287.5h18M371,288.5h26M371,289.5h27M454,289.5h17M467,303.5h16M467,304.5h16M464,305.5h19M467,306.5h16M433,320.5h21M434,321.5h20M434,322.5h20M432,323.5h22M434,326.5h20M432,327.5h21M434,328.5h20M433,336.5h21M433,337.5h21M433,338.5h21M433,339.5h21M433,340.5h18M433,341.5h21M434,350.5h18M434,352.5h19M435,369.5h17" stroke="#f00" stroke-width="1"/>
</g>
<text y="33"><tspan x="46">Day</tspan> <tspan x="78">328</tspan> <tspan x="110">of</tspan> <tspan x="128">2017,</tspan> <tspan x="173">Sidereal</tspan> <tspan x="237">Day-to-day</tspan> <tspan x="319">VTEC</tspan> <tspan x="367">variation</tspan> <tspan x="433">(SDTVAR)</tspan> <tspan x="511">for</tspan> <tspan x="535">receiver</tspan> <tspan x="597">iqal</tspan></text>
<text x="52" y="62" text-anchor="end">4</text>
<text x="52" y="102" text-anchor="end">3</text>
<text x="52" y="142" text-anchor="end">2</text>
<text x="52" y="183" text-anchor="end">1</text>
<text x="52" y="223" text-anchor="end">0</text>
<text x="52" y="263" text-anchor="end">-1</text>
<text x="52" y="303" text-anchor="end">-2</text>
<text x="52" y="344" text-anchor="end">-3</text>
<text x="52" y="384" text-anchor="end">-4</text>
<text x="52" y="424" text-anchor="end">-5</text>
<text x="64.8" y="443" text-anchor="middle">0</text>
<text x="173.8" y="443" text-anchor="middle">5</text>
<text x="282.8" y="443" text-anchor="middle">10</text>
<text x="391.8" y="443" text-anchor="middle">15</text>
<text x="500.8" y="443" text-anchor="middle">20</text>
<text x="609.8" y="443" text-anchor="middle">25</text>
<text x="335.3" y="471" text-anchor="middle">GPS time / hours</text>
<text transform="translate(18,239) rotate(-90)" text-anchor="middle">SDTVAR / TECUs</text>
</svg>
</body></html>
